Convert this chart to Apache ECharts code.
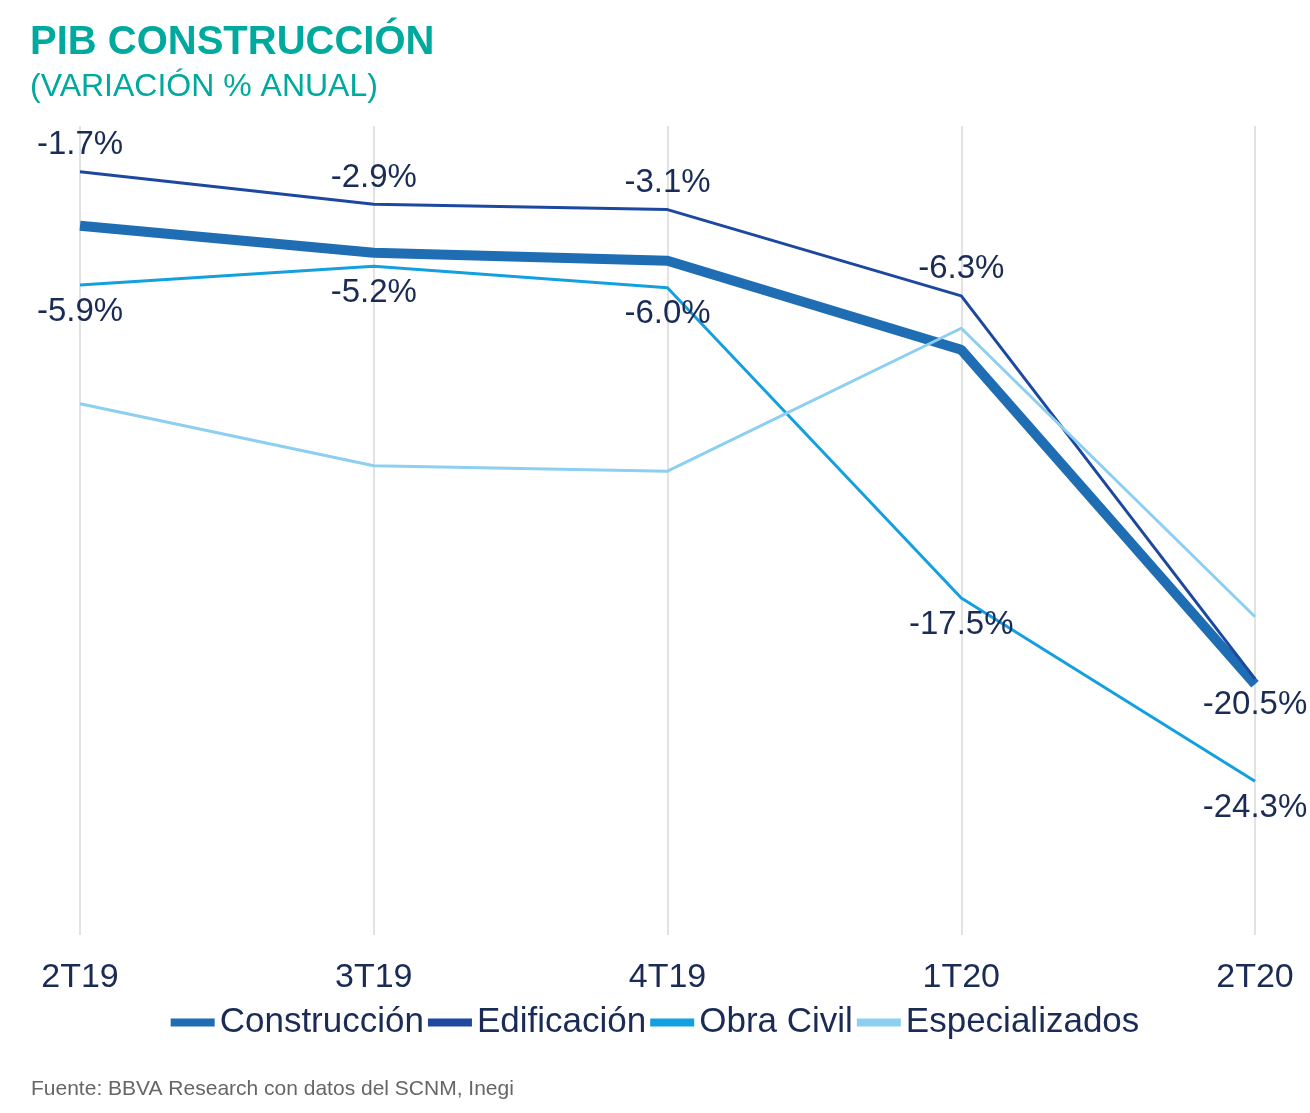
<!DOCTYPE html>
<html><head><meta charset="utf-8">
<script src="https://cdn.jsdelivr.net/npm/echarts@6/dist/echarts.min.js"></script>
<style>body{margin:0;background:#fff}#c{width:1310px;height:1113px}</style>
</head><body><div id="c"></div>
<script>
const categories = ['2T19','3T19','4T19','1T20','2T20'];
const construccion = [-3.7,-4.7,-5.0,-8.3,-20.7];
const edificacion = [-1.7,-2.9,-3.1,-6.3,-20.5];
const obraCivil = [-5.9,-5.2,-6.0,-17.5,-24.3];
const especializados = [-10.3,-12.6,-12.8,-7.5,-18.2];
const edifPos = ['top','top','top','top','bottom'];

const navy = '#1a2b55';
const lbl = {show:true, fontSize:33, color:navy, fontFamily:'Liberation Sans', distance:10, formatter:p=>p.value.toFixed(1)+'%'};
const chart = echarts.init(document.getElementById('c'));
chart.setOption({
  animation:false,
  textStyle:{fontFamily:'Liberation Sans'},
  title:[
    {text:'PIB CONSTRUCCIÓN', left:25, top:18, textStyle:{color:'#00a99d', fontSize:40, fontWeight:'bold'}},
    {text:'(VARIACIÓN % ANUAL)', left:25, top:66, textStyle:{color:'#00a99d', fontSize:32, fontWeight:'normal'}},
    {text:'Fuente: BBVA Research con datos del SCNM, Inegi', left:26, top:1074, textStyle:{color:'#666', fontSize:21, fontWeight:'normal'}}
  ],
  grid:{left:80, right:55, top:126, bottom:178},
  xAxis:{type:'category', data:categories, boundaryGap:false,
    axisLine:{show:false}, axisTick:{show:false},
    splitLine:{show:true, lineStyle:{color:'#d9d9d9', width:1.5}},
    axisLabel:{fontSize:34, color:navy, margin:26}},
  yAxis:{type:'value', min:-30, max:0, show:false, splitLine:{show:false}},
  legend:{top:1000, left:'center', itemWidth:44, itemHeight:8, itemGap:4, icon:'rect',
    textStyle:{fontSize:35, color:navy},
    data:['Construcción','Edificación','Obra Civil','Especializados']},
  series:[
    {name:'Construcción', type:'line', data:construccion, symbol:'none', lineStyle:{width:10, color:'#1f6db3'}, itemStyle:{color:'#1f6db3'}},
    {name:'Edificación', type:'line', data:edificacion.map((v,i)=>({value:v, label:{position:edifPos[i]}})), symbol:'circle', symbolSize:0.01, showSymbol:true, lineStyle:{width:3, color:'#1c48a0'}, itemStyle:{color:'#1c48a0'}, label:lbl},
    {name:'Obra Civil', type:'line', data:obraCivil, symbol:'circle', symbolSize:0.01, showSymbol:true, lineStyle:{width:3, color:'#14a0e0'}, itemStyle:{color:'#14a0e0'}, label:Object.assign({}, lbl, {position:'bottom'})},
    {name:'Especializados', type:'line', data:especializados, symbol:'none', lineStyle:{width:3, color:'#8ccff0'}, itemStyle:{color:'#8ccff0'}}
  ]
});
</script></body></html>
